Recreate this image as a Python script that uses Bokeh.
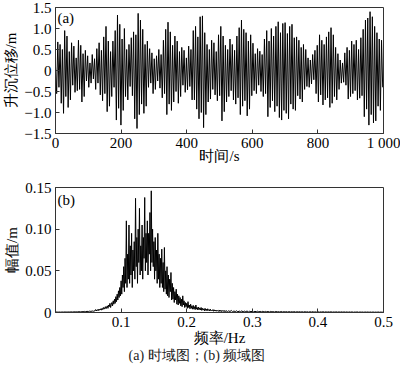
from bokeh.plotting import figure
from bokeh.layouts import column
from bokeh.models import Range1d, Label, Title, FixedTicker
from bokeh.embed import file_html
from bokeh.resources import INLINE
import numpy as np

# ---------------- data: (a) heave displacement, extrema every 3.5 s ----------------
heave_dt = 3.5
heave = [
    0.10, -0.55, 0.68, -0.40, 0.62, -0.78, 0.50, -1.02, 0.95, -0.62, 0.82, -0.88, 0.45, -0.70, 0.66, -0.35, 0.58, -0.52, 0.30, -0.48,
    0.72, -0.45, 0.60, -0.75, 0.40, -0.62, 0.48, -0.25, 0.35, -0.40, 0.18, -0.30, 0.38, -0.20, 0.28, -0.45, 0.52, -0.30, 0.66, -0.58,
    0.48, -0.72, 0.80, -0.55, 1.05, -0.98, 0.70, -0.85, 0.45, -0.62, 0.70, -0.40, 0.95, -1.18, 1.32, -0.90, 1.10, -1.30, 0.75, -0.95,
    1.00, -0.62, 0.50, -0.70, 0.62, -0.38, 0.78, -0.60, 0.92, -1.15, 0.85, -1.38, 1.36, -1.05, 1.20, -0.80, 0.98, -1.02, 0.62, -0.85,
    0.70, -0.40, 0.52, -0.30, 0.42, -0.55, 0.28, -0.45, 0.35, -0.25, 0.50, -0.42, 0.38, -0.65, 0.72, -0.55, 0.98, -1.05, 1.15, -0.80,
    0.92, -0.95, 0.60, -0.75, 0.82, -0.50, 0.70, -0.78, 0.45, -0.62, 0.55, -0.35, 0.48, -0.52, 0.30, -0.46, 0.58, -0.38, 0.50, -0.70,
    0.95, -0.70, 1.05, -0.92, 0.80, -1.15, 1.28, -1.00, 1.30, -1.36, 0.90, -1.05, 0.62, -0.75, 0.50, -0.68, 0.72, -0.45, 0.66, -0.58,
    0.45, -0.72, 0.85, -0.60, 1.05, -1.20, 0.82, -0.98, 0.60, -0.75, 0.50, -0.62, 0.75, -0.48, 0.62, -0.70, 0.48, -0.80, 0.82, -0.65,
    1.02, -1.05, 1.20, -0.85, 0.98, -0.72, 0.90, -1.08, 0.70, -0.92, 0.85, -0.60, 0.65, -0.48, 0.40, -0.55, 0.52, -0.35, 0.46, -0.50,
    0.38, -0.62, 0.75, -0.55, 0.95, -1.10, 0.70, -0.88, 1.00, -0.72, 0.82, -0.98, 1.05, -0.85, 1.16, -1.12, 0.90, -1.18, 1.12, -0.95,
    1.14, -1.02, 0.88, -1.15, 1.05, -0.80, 1.10, -0.92, 0.78, -0.95, 0.80, -0.60, 0.72, -0.68, 0.55, -0.75, 0.62, -0.45, 0.50, -0.38,
    0.30, -0.40, 0.25, -0.32, 0.38, -0.22, 0.48, -0.55, 0.60, -0.75, 0.85, -0.58, 0.72, -0.82, 0.62, -0.70, 0.80, -0.65, 0.92, -0.88,
    1.02, -0.78, 0.85, -0.62, 0.55, -0.70, 0.40, -0.45, 0.25, -0.30, 0.18, -0.28, 0.42, -0.35, 0.55, -0.68, 0.48, -0.62, 0.70, -0.55,
    0.62, -0.48, 0.72, -0.70, 0.50, -0.66, 0.78, -0.60, 0.98, -1.10, 1.20, -0.92, 1.25, -1.30, 1.40, -1.05, 1.28, -1.25, 1.05, -1.20,
    0.90, -0.85, 0.75, -0.95, 0.72, -0.40,
]
heave_t = np.arange(len(heave)) * heave_dt

# ---------------- data: (b) amplitude spectrum ----------------
# 0.000-0.058 Hz, step 0.002
amp_low = [
    0.0010, 0.0005, 0.0004, 0.0006, 0.0004, 0.0006, 0.0005, 0.0007, 0.0005, 0.0006,
    0.0007, 0.0005, 0.0008, 0.0006, 0.0008, 0.0007, 0.0009, 0.0007, 0.0010, 0.0008,
    0.0011, 0.0009, 0.0013, 0.0010, 0.0014, 0.0012, 0.0016, 0.0013, 0.0018, 0.0015,
]
# 0.060-0.259 Hz, step 0.001
amp_band = [
    0.0020, 0.0035, 0.0018, 0.0030, 0.0025, 0.0040, 0.0022, 0.0038, 0.0030, 0.0045,
    0.0028, 0.0050, 0.0035, 0.0060, 0.0040, 0.0055, 0.0070, 0.0045, 0.0065, 0.0080,
    0.0050, 0.0090, 0.0070, 0.0110, 0.0060, 0.0095, 0.0120, 0.0080, 0.0140, 0.0100,
    0.0160, 0.0110, 0.0190, 0.0130, 0.0220, 0.0150, 0.0260, 0.0180, 0.0300, 0.0200,
    0.0380, 0.0220, 0.0450, 0.0300, 0.0550, 0.0250, 0.0650, 0.0350, 0.1100, 0.0300,
    0.0700, 0.0400, 0.1050, 0.0350, 0.0800, 0.0450, 0.0950, 0.0300, 0.0750, 0.0500,
    0.0850, 0.0400, 0.1370, 0.0550, 0.0900, 0.0350, 0.1000, 0.0600, 0.1250, 0.0450,
    0.0800, 0.0500, 0.1050, 0.0400, 0.0900, 0.0650, 0.1380, 0.0500, 0.0950, 0.0600,
    0.1100, 0.0450, 0.0950, 0.0700, 0.1200, 0.0500, 0.1460, 0.0600, 0.1000, 0.0550,
    0.0850, 0.0400, 0.0900, 0.0500, 0.0750, 0.0350, 0.0950, 0.0400, 0.0700, 0.0300,
    0.0650, 0.0350, 0.0760, 0.0300, 0.0600, 0.0250, 0.0780, 0.0280, 0.0500, 0.0220,
    0.0550, 0.0200, 0.0450, 0.0180, 0.0400, 0.0250, 0.0480, 0.0150, 0.0350, 0.0160,
    0.0300, 0.0120, 0.0250, 0.0150, 0.0280, 0.0100, 0.0220, 0.0090, 0.0200, 0.0110,
    0.0180, 0.0080, 0.0160, 0.0070, 0.0200, 0.0090, 0.0140, 0.0060, 0.0120, 0.0070,
    0.0110, 0.0050, 0.0130, 0.0060, 0.0090, 0.0045, 0.0100, 0.0050, 0.0080, 0.0040,
    0.0085, 0.0040, 0.0070, 0.0035, 0.0090, 0.0040, 0.0060, 0.0030, 0.0065, 0.0035,
    0.0055, 0.0030, 0.0060, 0.0025, 0.0050, 0.0030, 0.0045, 0.0020, 0.0050, 0.0025,
    0.0040, 0.0020, 0.0045, 0.0025, 0.0035, 0.0018, 0.0040, 0.0020, 0.0030, 0.0022,
    0.0035, 0.0015, 0.0032, 0.0018, 0.0030, 0.0015, 0.0028, 0.0020, 0.0025, 0.0012,
    0.0030, 0.0014, 0.0026, 0.0012, 0.0025, 0.0015, 0.0022, 0.0010, 0.0024, 0.0012,
]
# 0.260-0.500 Hz, step 0.002
amp_tail = [
    0.0022, 0.0010, 0.0020, 0.0012, 0.0024, 0.0009, 0.0018, 0.0011, 0.0020, 0.0008,
    0.0017, 0.0010, 0.0019, 0.0008, 0.0016, 0.0010, 0.0018, 0.0007, 0.0015, 0.0009,
    0.0016, 0.0007, 0.0014, 0.0009, 0.0015, 0.0007, 0.0013, 0.0008, 0.0014, 0.0006,
    0.0013, 0.0008, 0.0012, 0.0006, 0.0013, 0.0007, 0.0011, 0.0006, 0.0012, 0.0007,
    0.0011, 0.0005, 0.0012, 0.0006, 0.0010, 0.0006, 0.0011, 0.0005, 0.0010, 0.0006,
    0.0010, 0.0005, 0.0011, 0.0005, 0.0009, 0.0006, 0.0010, 0.0005, 0.0009, 0.0005,
    0.0010, 0.0005, 0.0009, 0.0004, 0.0009, 0.0005, 0.0010, 0.0004, 0.0008, 0.0005,
    0.0009, 0.0004, 0.0008, 0.0005, 0.0009, 0.0004, 0.0008, 0.0004, 0.0008, 0.0005,
    0.0008, 0.0004, 0.0007, 0.0004, 0.0008, 0.0004, 0.0007, 0.0004, 0.0008, 0.0004,
    0.0007, 0.0004, 0.0007, 0.0003, 0.0007, 0.0004, 0.0007, 0.0003, 0.0006, 0.0004,
    0.0007, 0.0003, 0.0006, 0.0004, 0.0006, 0.0003, 0.0006, 0.0004, 0.0006, 0.0003,
    0.0006, 0.0003, 0.0006, 0.0003, 0.0005, 0.0003, 0.0006, 0.0003, 0.0005, 0.0003,
    0.0005,
]
freq = np.concatenate([
    0.000 + np.arange(len(amp_low)) * 0.002,
    0.060 + np.arange(len(amp_band)) * 0.001,
    0.260 + np.arange(len(amp_tail)) * 0.002,
])
amp = amp_low + amp_band + amp_tail

heave_yticks = [-1.5, -1.0, -0.5, 0, 0.5, 1.0, 1.5]
heave_ylabels = ["\u22121.5", "\u22121.0", "\u22120.5", "0", "0.5", "1.0", "1.5"]
heave_xticks = [0, 200, 400, 600, 800, 1000]
heave_xlabels = ["0", "200", "400", "600", "800", "1 000"]
amp_yticks = [0, 0.05, 0.10, 0.15]
amp_ylabels = ["0", "0.05", "0.10", "0.15"]
freq_xticks = [0.1, 0.2, 0.3, 0.4, 0.5]
freq_xlabels = ["0.1", "0.2", "0.3", "0.4", "0.5"]

FONT = "Liberation Serif"


def style(p, xticks, xlabels, yticks, ylabels):
    p.xgrid.visible = False
    p.ygrid.visible = False
    p.outline_line_color = "#333333"
    p.outline_line_width = 1
    p.xaxis.ticker = FixedTicker(ticks=xticks)
    p.yaxis.ticker = FixedTicker(ticks=yticks)
    p.xaxis.major_label_overrides = {t: l for t, l in zip(xticks, xlabels)}
    p.yaxis.major_label_overrides = {t: l for t, l in zip(yticks, ylabels)}
    for ax in (p.xaxis, p.yaxis):
        ax.major_tick_in = 4
        ax.major_tick_out = 0
        ax.minor_tick_in = 0
        ax.minor_tick_out = 0
        ax.axis_line_color = "#333333"
        ax.major_tick_line_color = "#333333"
        ax.major_label_text_font = FONT
        ax.major_label_text_font_size = "15px"
        ax.major_label_text_color = "black"
        ax.axis_label_text_font = FONT
        ax.axis_label_text_font_size = "15px"
        ax.axis_label_text_font_style = "normal"
        ax.axis_label_text_color = "black"
    p.yaxis.major_label_standoff = 4
    p.yaxis.axis_label_standoff = 2


p1 = figure(width=400, height=166, output_backend="svg", toolbar_location=None,
            x_range=Range1d(0, 1000), y_range=Range1d(-1.5, 1.5),
            min_border_left=55, min_border_right=17, min_border_top=7, min_border_bottom=33)
p1.line(heave_t, heave, line_color="black", line_width=1)
style(p1, heave_xticks, heave_xlabels, heave_yticks, heave_ylabels)
p1.xaxis.major_label_standoff = 1
p1.xaxis.axis_label_standoff = -6
p1.xaxis.axis_label = "时间/s"
p1.yaxis.axis_label = "升沉位移/m"
p1.add_layout(Label(x=6, y=1.43, text="(a)", text_font=FONT, text_font_size="15px",
                    text_baseline="top", text_color="black"))

p2 = figure(width=400, height=205, output_backend="svg", toolbar_location=None,
            x_range=Range1d(0, 0.5), y_range=Range1d(0, 0.15),
            min_border_left=55, min_border_right=17, min_border_top=21, min_border_bottom=59)
p2.line(freq, amp, line_color="black", line_width=1)
style(p2, freq_xticks, freq_xlabels, amp_yticks, amp_ylabels)
p2.xaxis.major_label_standoff = 4
p2.xaxis.axis_label_standoff = 0
p2.xaxis.axis_label = "频率/Hz"
p2.yaxis.axis_label = "幅值/m"
p2.add_layout(Label(x=0.003, y=0.1445, text="(b)", text_font=FONT, text_font_size="15px",
                    text_baseline="top", text_color="black"))
p2.add_layout(Title(text="(a) 时域图；(b) 频域图", align="left", offset=73,
                    text_font=FONT, text_font_size="14px", text_font_style="normal",
                    text_color="#222222", standoff=-5), "below")

layout = column(p1, p2, spacing=0)
open("out.html", "w").write(file_html(layout, INLINE))
